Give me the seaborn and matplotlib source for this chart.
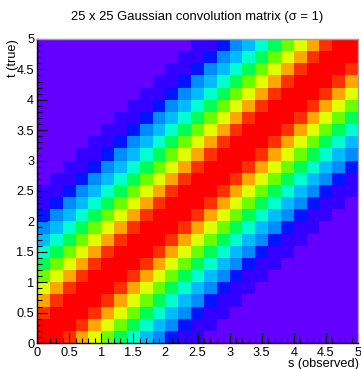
import numpy as np
import pandas as pd
import matplotlib
matplotlib.use("Agg")
import matplotlib.pyplot as plt
import seaborn as sns
from matplotlib.colors import ListedColormap

# ---------------- data ----------------
title = "25 x 25 Gaussian convolution matrix (\u03c3 = 1)"
x_label = "s (observed)"
y_label = "t (true)"
n_bins = 25
bin_width = 0.2
offset_values = [1.0, 0.98, 0.92, 0.84, 0.73, 0.61, 0.49, 0.38, 0.28, 0.21,
                 0.14, 0.09, 0.06, 0.03, 0.02, 0.01, 0.005, 0.003, 0.002, 0.001,
                 0.001, 0.001, 0.001, 0.001, 0.001]
major_ticks = [0, 0.5, 1, 1.5, 2, 2.5, 3, 3.5, 4, 4.5, 5]
tick_labels = ["0", "0.5", "1", "1.5", "2", "2.5", "3", "3.5", "4", "4.5", "5"]
minor_ticks = [round(0.1 * k, 1) for k in range(51)]

# ROOT "pretty" palette as drawn with 20 contour levels
palette = ["#6300ff", "#3300ff", "#0014ff", "#0044ff", "#008bff", "#00bbff",
           "#00fffc", "#00ffcc", "#00ff85", "#00ff55", "#00ff0e", "#22ff00",
           "#69ff00", "#99ff00", "#e0ff00", "#ffee00", "#ffa700", "#ff7700",
           "#ff3000", "#ff0000"]

idx = np.arange(n_bins)
offsets = np.abs(np.subtract.outer(idx, idx))
matrix = np.array(offset_values)[offsets]          # rows: t bins, cols: s bins
centers = [round((i + 0.5) * bin_width, 2) for i in idx]
df = pd.DataFrame(matrix, index=centers, columns=centers)

# ---------------- figure ----------------
plt.rcParams["font.family"] = ["Liberation Sans", "DejaVu Sans"]
fig = plt.figure(figsize=(3.61, 3.69), dpi=100)
ax = fig.add_axes([37 / 361, 1 - 343 / 369, 321 / 361, 304 / 369])

cmap = ListedColormap(palette)
sns.heatmap(df, ax=ax, cmap=cmap, vmin=0, vmax=1, cbar=False,
            xticklabels=False, yticklabels=False)
ax.set_xlim(0, n_bins)
ax.set_ylim(0, n_bins)

scale = 1 / bin_width
ax.set_xticks([v * scale for v in major_ticks])
ax.set_xticklabels(tick_labels)
ax.set_yticks([v * scale for v in major_ticks])
ax.set_yticklabels(tick_labels)
ax.set_xticks([v * scale for v in minor_ticks], minor=True)
ax.set_yticks([v * scale for v in minor_ticks], minor=True)

fs = 9.2
ax.tick_params(axis="both", which="major", direction="in", length=6.9, width=0.8,
               color="black", labelsize=fs, bottom=True, left=True,
               top=False, right=False, labelcolor="black")
ax.tick_params(axis="x", which="major", pad=3)
ax.tick_params(axis="y", which="major", pad=2)
ax.tick_params(axis="both", which="minor", direction="in", length=3.5, width=0.8,
               color="black", bottom=True, left=True, top=False, right=False)
for lab in ax.get_yticklabels():
    lab.set_rotation(0)
for lab in ax.get_xticklabels():
    lab.set_rotation(0)

for side in ["left", "bottom"]:
    ax.spines[side].set_visible(True)
    ax.spines[side].set_color("black")
    ax.spines[side].set_linewidth(1.0)
for side in ["top", "right"]:
    ax.spines[side].set_visible(True)
    ax.spines[side].set_color("#a0a0a0")
    ax.spines[side].set_linewidth(1.0)

ax.set_xlabel(x_label, loc="right", fontsize=fs)
ax.xaxis.set_label_coords(1.004, -0.05)
ax.set_ylabel(y_label, loc="top", fontsize=fs)
ax.yaxis.set_label_coords(-0.056, 1.0)

ax.set_title(title, fontsize=9.4, pad=14.0)

fig.savefig("out.png", dpi=100)
